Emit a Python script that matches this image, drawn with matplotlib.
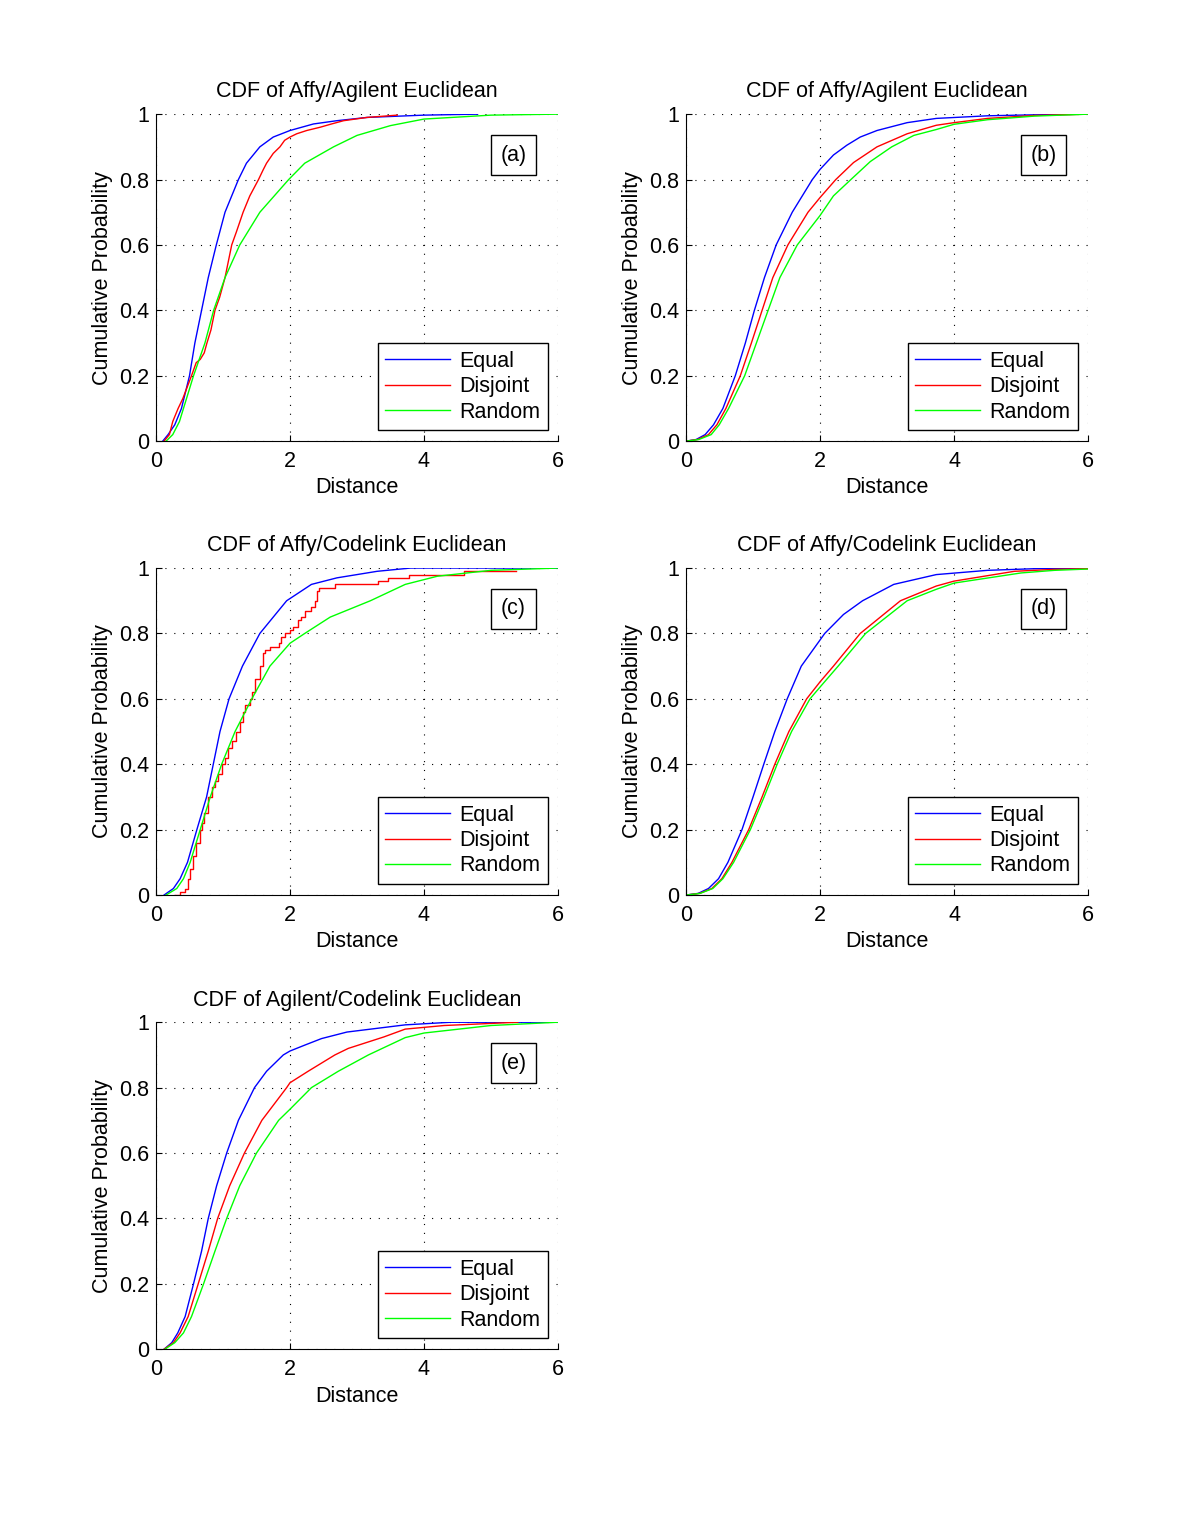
import matplotlib
matplotlib.use("Agg")
import matplotlib.pyplot as plt

plt.rcParams['font.family'] = ['Liberation Sans', 'DejaVu Sans']

titles = ["CDF of Affy/Agilent Euclidean", "CDF of Affy/Agilent Euclidean",
          "CDF of Affy/Codelink Euclidean", "CDF of Affy/Codelink Euclidean",
          "CDF of Agilent/Codelink Euclidean"]
tags = ["(a)", "(b)", "(c)", "(d)", "(e)"]
names = ["Equal", "Disjoint", "Random"]

# (a)
a_eq_x = [0.1, 0.18, 0.28, 0.38, 0.5, 0.58, 0.68, 0.78, 0.9, 1.03, 1.23, 1.35, 1.55, 1.75, 2.0, 2.35, 2.7, 3.15, 4.0, 4.8]
a_eq_y = [0, 0.02, 0.05, 0.1, 0.2, 0.3, 0.4, 0.5, 0.6, 0.7, 0.8, 0.85, 0.9, 0.93, 0.95, 0.97, 0.98, 0.99, 0.997, 1.0]
a_dj_x = [0.12, 0.2, 0.25, 0.33, 0.4, 0.53, 0.6, 0.66, 0.72, 0.76, 0.82, 0.88, 0.95, 1.03, 1.08, 1.13, 1.2, 1.3,
          1.4, 1.53, 1.6, 1.65, 1.75, 1.85, 1.92, 2.0, 2.1, 2.25, 2.45, 2.62, 2.8, 3.15, 3.6]
a_dj_y = [0, 0.02, 0.06, 0.1, 0.13, 0.2, 0.24, 0.25, 0.27, 0.3, 0.34, 0.4, 0.44, 0.5, 0.55, 0.6, 0.64, 0.7,
          0.75, 0.8, 0.83, 0.85, 0.88, 0.9, 0.92, 0.93, 0.94, 0.95, 0.96, 0.97, 0.98, 0.99, 0.997]
a_rn_x = [0.15, 0.25, 0.35, 0.41, 0.56, 0.73, 0.86, 1.03, 1.25, 1.55, 1.98, 2.22, 2.65, 3.0, 3.5, 4.0, 5.0, 6.0]
a_rn_y = [0, 0.02, 0.06, 0.1, 0.2, 0.3, 0.4, 0.5, 0.6, 0.7, 0.8, 0.85, 0.9, 0.935, 0.965, 0.985, 0.997, 1.0]

# (b)
b_eq_x = [0.0, 0.15, 0.285, 0.41, 0.55, 0.735, 0.885, 1.02, 1.17, 1.345, 1.585, 1.885, 2.0, 2.2, 2.4, 2.6, 2.85, 3.3, 3.735, 4.5, 5.2, 6.0]
b_eq_y = [0, 0.005, 0.02, 0.05, 0.1, 0.2, 0.3, 0.4, 0.5, 0.6, 0.7, 0.8, 0.831, 0.875, 0.905, 0.93, 0.95, 0.974, 0.987, 0.995, 0.998, 1.0]
b_dj_x = [0.0, 0.17, 0.335, 0.46, 0.595, 0.81, 0.975, 1.135, 1.295, 1.52, 1.82, 2.0, 2.235, 2.5, 2.85, 3.3, 3.735, 4.0, 4.5, 5.2, 6.0]
b_dj_y = [0, 0.005, 0.02, 0.05, 0.1, 0.2, 0.3, 0.4, 0.5, 0.6, 0.7, 0.745, 0.8, 0.852, 0.9, 0.94, 0.966, 0.974, 0.987, 0.996, 1.0]
b_rn_x = [0.0, 0.19, 0.375, 0.495, 0.635, 0.875, 1.05, 1.225, 1.40, 1.66, 2.0, 2.2, 2.46, 2.75, 3.07, 3.4, 3.735, 4.0, 4.5, 5.2, 6.0]
b_rn_y = [0, 0.005, 0.02, 0.05, 0.1, 0.2, 0.3, 0.4, 0.5, 0.6, 0.69, 0.75, 0.8, 0.855, 0.9, 0.935, 0.953, 0.969, 0.983, 0.994, 1.0]

# (c)
c_eq_x = [0.12, 0.26, 0.36, 0.47, 0.61, 0.755, 0.855, 0.955, 1.09, 1.29, 1.55, 1.95, 2.32, 2.7, 3.3, 3.8, 6.0]
c_eq_y = [0, 0.02, 0.05, 0.1, 0.2, 0.3, 0.4, 0.5, 0.6, 0.7, 0.8, 0.9, 0.95, 0.97, 0.99, 1.0, 1.0]
c_dj_x = [0.28, 0.36, 0.43, 0.48, 0.51, 0.55, 0.6, 0.66, 0.68, 0.72, 0.78, 0.83, 0.88, 0.93, 0.98, 1.03, 1.08,
          1.14, 1.20, 1.25, 1.30, 1.33, 1.40, 1.43, 1.48, 1.55, 1.59, 1.63, 1.70, 1.83, 1.87, 1.93, 2.0, 2.05,
          2.12, 2.17, 2.22, 2.32, 2.37, 2.41, 2.43, 2.67, 3.32, 3.47, 3.77, 4.6, 5.38]
c_dj_y = [0, 0.01, 0.02, 0.05, 0.08, 0.12, 0.16, 0.2, 0.22, 0.25, 0.3, 0.33, 0.35, 0.37, 0.4, 0.42, 0.45,
          0.47, 0.5, 0.53, 0.56, 0.58, 0.6, 0.62, 0.66, 0.7, 0.74, 0.75, 0.76, 0.77, 0.79, 0.8, 0.81, 0.82,
          0.84, 0.85, 0.87, 0.88, 0.9, 0.93, 0.94, 0.95, 0.96, 0.97, 0.98, 0.99, 0.99]
c_rn_x = [0.15, 0.31, 0.41, 0.51, 0.66, 0.81, 0.98, 1.18, 1.43, 1.70, 2.0, 2.22, 2.6, 3.2, 3.72, 4.2, 5.0, 6.0]
c_rn_y = [0, 0.02, 0.05, 0.1, 0.2, 0.3, 0.4, 0.5, 0.6, 0.7, 0.77, 0.8, 0.85, 0.9, 0.95, 0.975, 0.993, 1.0]

# (d)
d_eq_x = [0.0, 0.18, 0.335, 0.485, 0.625, 0.835, 1.0, 1.16, 1.325, 1.51, 1.72, 2.0, 2.07, 2.35, 2.635, 3.1, 3.735, 4.5, 5.2, 6.0]
d_eq_y = [0, 0.005, 0.02, 0.05, 0.1, 0.2, 0.3, 0.4, 0.5, 0.6, 0.7, 0.78, 0.8, 0.858, 0.9, 0.95, 0.98, 0.993, 0.998, 1.0]
d_dj_x = [0.0, 0.2, 0.385, 0.535, 0.685, 0.935, 1.135, 1.325, 1.535, 1.80, 2.0, 2.2, 2.6, 3.2, 3.735, 4.0, 4.9, 5.5, 6.0]
d_dj_y = [0, 0.005, 0.02, 0.05, 0.1, 0.2, 0.3, 0.4, 0.5, 0.6, 0.652, 0.7, 0.8, 0.9, 0.945, 0.96, 0.99, 0.996, 0.998]
d_rn_x = [0.0, 0.21, 0.4, 0.55, 0.71, 0.96, 1.165, 1.36, 1.575, 1.85, 2.0, 2.27, 2.68, 3.3, 3.735, 4.0, 5.0, 5.5, 6.0]
d_rn_y = [0, 0.005, 0.02, 0.05, 0.1, 0.2, 0.3, 0.4, 0.5, 0.6, 0.636, 0.7, 0.8, 0.9, 0.935, 0.954, 0.985, 0.993, 0.997]

# (e)
e_eq_x = [0.12, 0.235, 0.325, 0.435, 0.56, 0.68, 0.78, 0.905, 1.055, 1.23, 1.47, 1.65, 1.9, 2.0, 2.22, 2.47, 2.85, 3.72, 4.4, 6.0]
e_eq_y = [0, 0.02, 0.05, 0.1, 0.2, 0.3, 0.4, 0.5, 0.6, 0.7, 0.8, 0.85, 0.9, 0.912, 0.93, 0.95, 0.97, 0.992, 1.0, 1.0]
e_dj_x = [0.12, 0.26, 0.36, 0.48, 0.63, 0.78, 0.92, 1.10, 1.32, 1.58, 1.95, 2.0, 2.27, 2.67, 2.87, 3.4, 3.72, 4.3, 5.4]
e_dj_y = [0, 0.02, 0.05, 0.1, 0.2, 0.3, 0.4, 0.5, 0.6, 0.7, 0.8, 0.815, 0.85, 0.9, 0.92, 0.955, 0.979, 0.99, 1.0]
e_rn_x = [0.13, 0.28, 0.41, 0.53, 0.71, 0.88, 1.055, 1.25, 1.50, 1.83, 2.0, 2.32, 2.72, 3.17, 3.72, 4.0, 5.0, 6.0]
e_rn_y = [0, 0.02, 0.05, 0.1, 0.2, 0.3, 0.4, 0.5, 0.6, 0.7, 0.734, 0.8, 0.85, 0.9, 0.953, 0.967, 0.99, 1.0]

panels = [
    [(a_eq_x, a_eq_y), (a_dj_x, a_dj_y), (a_rn_x, a_rn_y)],
    [(b_eq_x, b_eq_y), (b_dj_x, b_dj_y), (b_rn_x, b_rn_y)],
    [(c_eq_x, c_eq_y), (c_dj_x, c_dj_y), (c_rn_x, c_rn_y)],
    [(d_eq_x, d_eq_y), (d_dj_x, d_dj_y), (d_rn_x, d_rn_y)],
    [(e_eq_x, e_eq_y), (e_dj_x, e_dj_y), (e_rn_x, e_rn_y)],
]
steps = [False, False, True, False, False]
colors = ['#0000ff', '#ff0000', '#00ff00']
FS = 15.5

fig = plt.figure(figsize=(12, 15.16), dpi=100)
lefts = [0.13, 0.5717]
bottoms = [0.709, 0.4096, 0.110]
W, H = 0.335, 0.2157

for i in range(5):
    ax = fig.add_axes([lefts[i % 2], bottoms[i // 2], W, H])
    for j, (xs, ys) in enumerate(panels[i]):
        ds = 'steps-post' if (steps[i] and j == 1) else 'default'
        ax.plot(xs, ys, color=colors[j], lw=1.0, label=names[j], drawstyle=ds)
    ax.set_xlim(0, 6)
    ax.set_ylim(0, 1)
    ax.set_xticks([0, 2, 4, 6])
    ax.set_yticks([0, 0.2, 0.4, 0.6, 0.8, 1])
    ax.set_yticklabels(['0', '0.2', '0.4', '0.6', '0.8', '1'])
    ax.grid(True, ls=(0, (1, 7)), color='k', lw=0.8)
    ax.spines['top'].set_visible(False)
    ax.spines['right'].set_visible(False)
    ax.tick_params(direction='in', labelsize=FS, length=4)
    ax.tick_params(axis='x', pad=7)
    ax.tick_params(axis='y', pad=5)
    ax.set_title(titles[i], fontsize=FS, pad=12)
    ax.set_xlabel('Distance', fontsize=FS, labelpad=4)
    ax.set_ylabel('Cumulative Probability', fontsize=FS, labelpad=4)
    leg = ax.legend(loc='lower right', bbox_to_anchor=(0.975, 0.034), fontsize=FS,
                    handlelength=3.0, fancybox=False, framealpha=1, edgecolor='k',
                    borderpad=0.35, labelspacing=0.2, handletextpad=0.45, borderaxespad=0)
    leg.get_frame().set_linewidth(1.0)
    ax.text(0.889, 0.875, tags[i], transform=ax.transAxes, fontsize=FS,
            ha='center', va='center',
            bbox=dict(boxstyle='square,pad=0.45', fc='white', ec='k', lw=1.0))

fig.savefig('out.png', dpi=100)
